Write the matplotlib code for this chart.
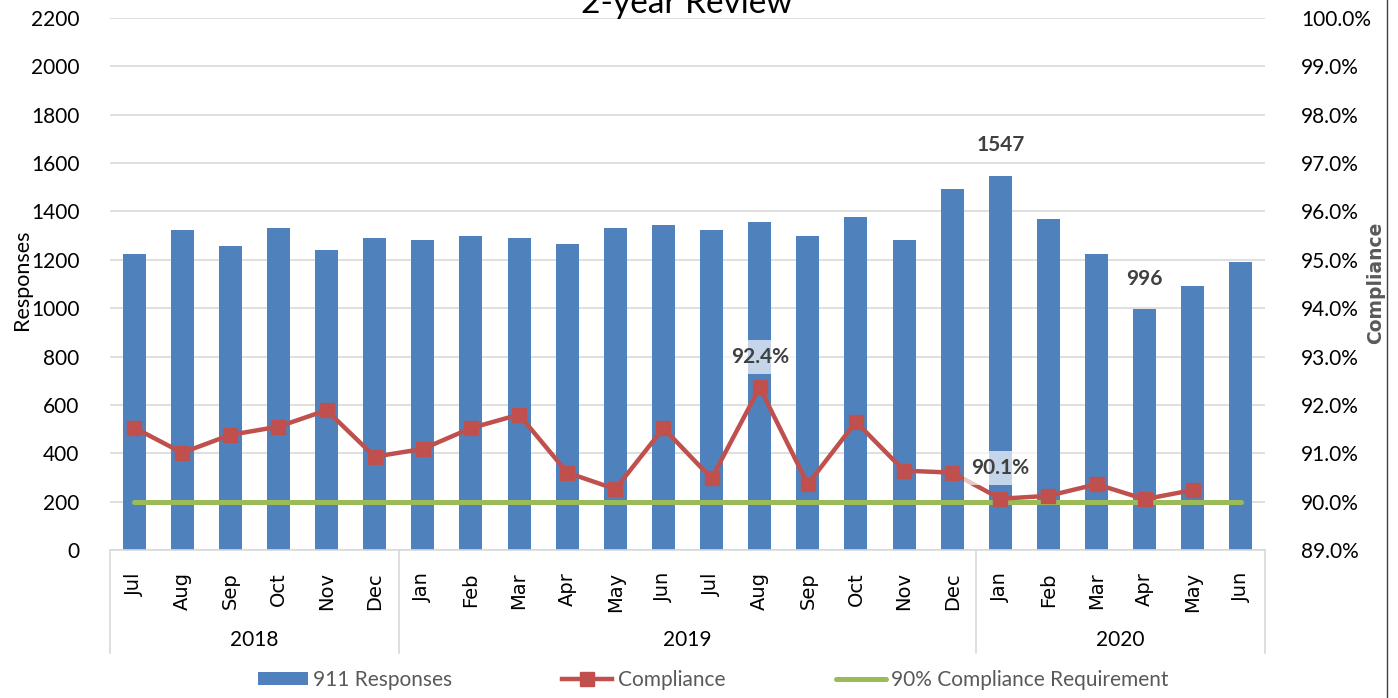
import numpy as np
import matplotlib
matplotlib.use("Agg")
import matplotlib.pyplot as plt
import matplotlib.transforms as mtransforms
from matplotlib.lines import Line2D
from matplotlib.patches import Patch

plt.rcParams["font.family"] = ["Lato", "DejaVu Sans"]

# data
months = ["Jul", "Aug", "Sep", "Oct", "Nov", "Dec",
          "Jan", "Feb", "Mar", "Apr", "May", "Jun",
          "Jul", "Aug", "Sep", "Oct", "Nov", "Dec",
          "Jan", "Feb", "Mar", "Apr", "May", "Jun"]
years = ["2018", "2019", "2020"]
year_first = [0, 6, 18]
year_last = [5, 17, 23]
responses = [1226, 1323, 1259, 1332, 1242, 1290, 1284, 1299, 1290, 1266, 1332, 1346,
             1323, 1355, 1299, 1378, 1284, 1491, 1547, 1370, 1226, 996, 1090, 1193]
compliance = [91.53, 91.01, 91.38, 91.55, 91.89, 90.93, 91.09, 91.52, 91.80, 90.60, 90.26, 91.52,
              90.48, 92.36, 90.36, 91.65, 90.64, 90.60, 90.06, 90.12, 90.36, 90.05, 90.24, np.nan]
requirement = [90.0] * 24
resp_labels = [18, 21]
comp_labels = [13, 18]

BLUE = "#4F81BD"
RED = "#C0504D"
GREEN = "#9BBB59"
GRID = "#D9D9D9"
LABEL = "#404040"

fig = plt.figure(figsize=(13.98, 6.98), dpi=100)
ax = fig.add_axes([110 / 1398, 1 - 550 / 698, 1155 / 1398, 532 / 698])
ax2 = ax.twinx()

x = np.arange(len(months))

# bars
ax.bar(x, responses, width=0.48, color=BLUE, zorder=2)
ax.set_ylim(0, 2200)
ax.set_yticks(range(0, 2201, 200))
ax.set_xlim(-0.5, len(months) - 0.5)
ax.yaxis.grid(True, color=GRID, lw=1.2, zorder=0)
ax.set_axisbelow(True)
ax.set_ylabel("Responses", fontsize=15.5)
ax.yaxis.set_label_coords(-78 / 1155, 270 / 532)
ax.tick_params(axis="y", length=0, labelsize=15, pad=22)
ax.set_xticks(x)
ax.set_xticklabels(months, rotation=90, fontsize=14, family="DejaVu Sans", va="top")
ax.tick_params(axis="x", length=0, pad=16)
for s in ["left", "right", "top"]:
    ax.spines[s].set_visible(False)
ax.spines["bottom"].set_color(GRID)
ax.spines["bottom"].set_linewidth(1.2)

for i in resp_labels:
    ax.annotate(str(responses[i]), (x[i], responses[i]), xytext=(0, 22),
                textcoords="offset points", ha="center", va="center",
                fontsize=15, fontweight="bold", color=LABEL, zorder=5)

# compliance lines
ax2.plot(x, requirement, color=GREEN, lw=3.6, solid_capstyle="round", zorder=3)
ax2.plot(x, compliance, color=RED, lw=3.2, marker="s", markersize=10, zorder=4)
ax2.set_ylim(89, 100)
ax2.set_yticks(np.arange(89, 100.1, 1))
ax2.set_yticklabels([f"{v:.1f}%" for v in np.arange(89, 100.1, 1)])
ax2.tick_params(axis="y", length=0, labelsize=15, pad=26)
ax2.set_ylabel("Compliance", fontsize=13.5, fontweight="bold", color="#595959",
               family="DejaVu Sans")
ax2.yaxis.set_label_coords(1256 / 1155, 267 / 532)
for s in ["left", "right", "top", "bottom"]:
    ax2.spines[s].set_visible(False)

for i in comp_labels:
    ax2.annotate(f"{compliance[i]:.1f}%", (x[i], compliance[i]), xytext=(0, 22),
                 textcoords="offset points", ha="center", va="center",
                 fontsize=15, fontweight="bold", color=LABEL, zorder=6,
                 bbox=dict(boxstyle="square,pad=0.35", facecolor="white",
                           alpha=0.67, edgecolor="none"))

# multi-level category axis: year separators and labels
trans = mtransforms.blended_transform_factory(ax.transData, ax.transAxes)
sep_depth = -103 / 532
for b in [-0.5, 5.5, 17.5, 23.5]:
    ax.plot([b, b], [0, sep_depth], transform=trans, color=GRID, lw=1.2, clip_on=False)
for yr, a, b in zip(years, year_first, year_last):
    ax.text((a + b) / 2, -90 / 532, yr, transform=trans, ha="center", va="center",
            fontsize=15)

# title (cut off at top as in the original)
fig.text(687 / 1398, 1 - 12.7 / 698, "2-year Review", ha="center", va="baseline",
         fontsize=24)

# chart frame edge on the right
fig.add_artist(Line2D([1387 / 1398, 1387 / 1398], [0, 1], transform=fig.transFigure,
                      color="#404040", lw=1))

# legend
handles = [Patch(facecolor=BLUE, edgecolor="none"),
           Line2D([], [], color=RED, lw=3.2, marker="s", markersize=10),
           Line2D([], [], color=GREEN, lw=3.6, solid_capstyle="round")]
fig.legend(handles, ["911 Responses", "Compliance", "90% Compliance Requirement"],
           loc="center", bbox_to_anchor=(713 / 1398, 1 - 680 / 698), ncol=3,
           frameon=False, fontsize=15, labelcolor="#595959",
           handlelength=2.4, handleheight=0.6, handletextpad=0.25, columnspacing=5.3)

fig.savefig("out.png", dpi=100)
